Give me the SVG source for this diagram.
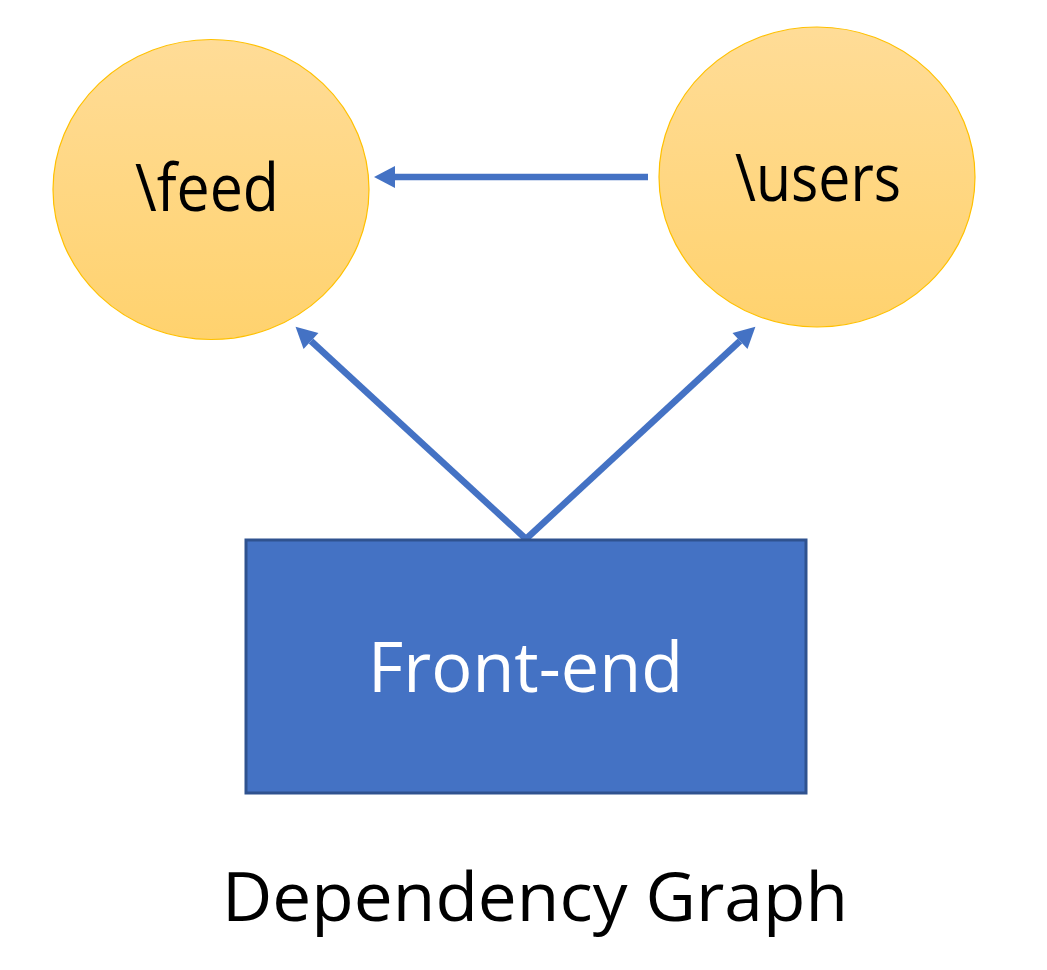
<svg xmlns="http://www.w3.org/2000/svg" width="1047" height="970" viewBox="0 0 1047 970">
<style>
.node-circle{fill:url(#gold);stroke:#FFC000;stroke-width:1.2}
.label{font-family:"Open Sans","Liberation Sans",sans-serif;text-anchor:middle}
.dark{fill:#000000}
.light{fill:#FFFFFF}
.conn{stroke:#4472C4;stroke-width:6.5;fill:none;marker-end:url(#arrow)}
</style>
<defs>
<linearGradient id="gold" x1="0" y1="0" x2="0" y2="1">
<stop offset="0" stop-color="#FFDC97"/>
<stop offset="1" stop-color="#FFD26E"/>
</linearGradient>
<marker id="arrow" markerUnits="userSpaceOnUse" markerWidth="24" markerHeight="24" viewBox="0 -12 24 24" refX="0" refY="0" orient="auto" overflow="visible">
<path d="M0,-11 L21,0 L0,11 z" fill="#4472C4"/>
</marker>
</defs>
<rect width="1047" height="970" fill="#FFFFFF"/>
<g id="connectors">
<line class="conn" x1="648" y1="177" x2="395" y2="177"/>
<line class="conn" x1="526" y1="539" x2="311" y2="341"/>
<line class="conn" x1="526" y1="539" x2="740" y2="341"/>
</g>
<g id="node-feed">
<ellipse class="node-circle" cx="211" cy="189.5" rx="158" ry="150"/>
<text class="label dark" x="207" y="211" font-size="66" textLength="144" lengthAdjust="spacingAndGlyphs">\feed</text>
</g>
<g id="node-users">
<ellipse class="node-circle" cx="817" cy="177" rx="158" ry="150"/>
<text class="label dark" x="818" y="201" font-size="66" textLength="166" lengthAdjust="spacingAndGlyphs">\users</text>
</g>
<g id="node-frontend">
<rect x="246" y="540" width="560" height="253" fill="#4472C4" stroke="#2F528F" stroke-width="3"/>
<text class="label light" x="525.5" y="692" font-size="69" textLength="315" lengthAdjust="spacingAndGlyphs">Front-end</text>
</g>
<g id="caption">
<text class="label dark" x="535" y="921" font-size="68" textLength="626" lengthAdjust="spacingAndGlyphs">Dependency Graph</text>
</g>
</svg>
